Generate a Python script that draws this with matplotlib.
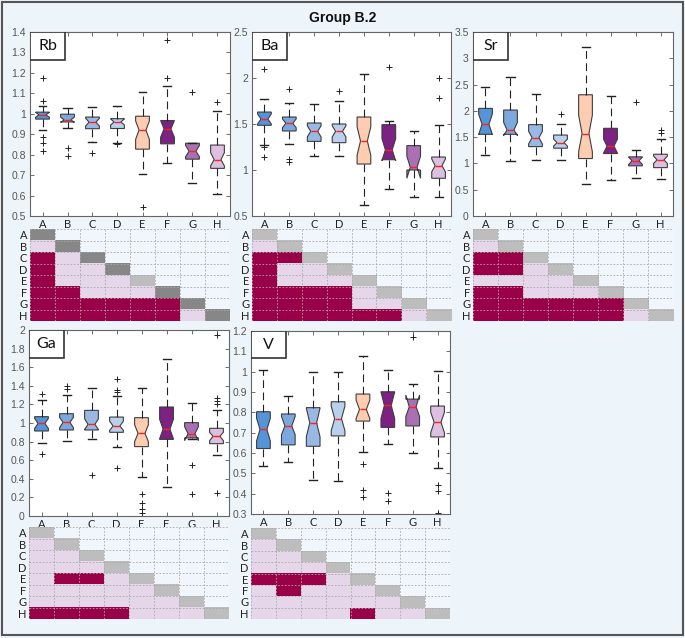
import numpy as np
import matplotlib
matplotlib.use("Agg")
import matplotlib.pyplot as plt
from matplotlib.patches import Rectangle
from matplotlib.colors import ListedColormap
from matplotlib.ticker import FuncFormatter, MultipleLocator

groups = ["A", "B", "C", "D", "E", "F", "G", "H"]
box_colors = ["#5594d6", "#7ca8de", "#9ab8e4", "#b9cfeb",
              "#fdccb1", "#7d2282", "#a970b3", "#dcbfe1"]

# box stats per group: (whisker low, q1, median, q3, whisker high)
rb_box = [(0.92, 0.974, 0.995, 1.008, 1.04), (0.93, 0.96, 0.97, 0.998, 1.03),
          (0.862, 0.927, 0.959, 0.984, 1.035), (0.858, 0.928, 0.96, 0.976, 1.04),
          (0.706, 0.827, 0.92, 0.988, 1.105), (0.758, 0.853, 0.926, 0.967, 1.137),
          (0.663, 0.778, 0.817, 0.856, 0.856), (0.606, 0.733, 0.776, 0.847, 1.015)]
rb_notch = [(0.983, 1.007), (0.958, 0.984), (0.94, 0.978), (0.945, 0.975),
            (0.875, 0.965), (0.885, 0.967), (0.79, 0.845), (0.745, 0.81)]
rb_fliers = [[1.175, 1.064, 0.887, 0.855, 0.82], [0.835, 0.793], [0.807], [0.852],
             [0.543], [1.175, 1.361], [1.106], [1.06]]
rb_sig = [".", "x.", "x..", "x...", "xx...", "xxxxxx", "xxxxxx."]
rb_diag = "ddddlddd"

ba_box = [(1.268, 1.486, 1.554, 1.63, 1.775), (1.286, 1.424, 1.507, 1.576, 1.725),
          (1.149, 1.311, 1.42, 1.511, 1.717), (1.149, 1.297, 1.42, 1.5, 1.746),
          (0.623, 1.065, 1.315, 1.576, 2.04), (0.79, 1.112, 1.22, 1.493, 1.536),
          (0.707, 1.0, 1.03, 1.265, 1.42), (0.707, 0.91, 1.047, 1.141, 1.493)]
ba_notch = [(1.50, 1.61), (1.46, 1.555), (1.36, 1.48), (1.36, 1.48),
            (1.16, 1.47), (1.10, 1.34), (0.91, 1.15), (0.98, 1.12)]
ba_fliers = [[2.25, 2.10, 1.247, 1.138], [1.877, 1.12, 1.083], [], [1.855],
             [], [2.12], [], [2.0, 1.783]]
ba_sig = [".", "xx", "x..", "x...", "xxxx.", "xxxx..", "xxxxxx."]
ba_diag = "llllllll"

sr_box = [(1.156, 1.554, 1.744, 2.047, 2.45), (1.043, 1.554, 1.636, 2.016, 2.65),
          (1.068, 1.32, 1.49, 1.738, 2.318), (1.068, 1.29, 1.396, 1.54, 1.75),
          (0.6, 1.093, 1.567, 2.306, 3.21), (0.683, 1.188, 1.327, 1.668, 2.275),
          (0.714, 0.954, 1.05, 1.125, 1.257), (0.7, 0.92, 1.068, 1.175, 1.472)]
sr_notch = [(1.55, 1.94), (1.53, 1.78), (1.37, 1.61), (1.33, 1.46),
            (1.22, 1.92), (1.20, 1.46), (0.98, 1.12), (1.0, 1.14)]
sr_fliers = [[], [], [], [1.946], [], [], [2.173], [1.63, 1.586]]
sr_sig = [".", "xx", "xx.", "....", "xx...", "xxxxxx", "xxxxxx."]
sr_diag = "llllllll"

ga_box = [(0.789, 0.914, 0.996, 1.068, 1.244), (0.803, 0.925, 1.007, 1.10, 1.30),
          (0.824, 0.925, 0.986, 1.136, 1.373), (0.738, 0.9, 0.968, 1.064, 1.294),
          (0.419, 0.746, 0.889, 1.057, 1.373), (0.312, 0.824, 0.935, 1.172, 1.685),
          (0.83, 0.84, 0.885, 1.004, 1.219), (0.656, 0.778, 0.857, 0.943, 1.14)]
ga_notch = [(0.94, 1.05), (0.95, 1.06), (0.93, 1.045), (0.92, 1.02),
            (0.80, 0.98), (0.83, 1.04), (0.81, 0.96), (0.81, 0.90)]
ga_fliers = [[1.308, 0.663], [1.401, 1.362], [0.444], [1.477, 1.351, 1.33, 0.513],
             [0.233, 0.136, 0.072, 0.036], [], [0.548, 0.233],
             [1.946, 1.265, 1.235, 1.205, 0.244]]
ga_sig = [".", "..", "...", ".xx.", ".....", "......", "xxxx..."]
ga_diag = "llllllll"

v_box = [(0.538, 0.622, 0.716, 0.803, 1.01), (0.555, 0.64, 0.733, 0.792, 0.881),
         (0.468, 0.633, 0.749, 0.823, 0.999), (0.46, 0.684, 0.769, 0.852, 0.999),
         (0.604, 0.757, 0.814, 0.890, 1.077), (0.644, 0.726, 0.834, 0.901, 1.01),
         (0.599, 0.733, 0.827, 0.865, 0.937), (0.525, 0.679, 0.751, 0.831, 1.002)]
v_notch = [(0.66, 0.77), (0.69, 0.78), (0.68, 0.82), (0.71, 0.83),
           (0.77, 0.86), (0.77, 0.90), (0.78, 0.885), (0.70, 0.80)]
v_fliers = [[], [], [], [], [0.545, 0.419, 0.386], [0.403, 0.362], [1.171],
            [0.443, 0.411, 0.305]]
v_sig = [".", "..", "...", "xxx.", ".x...", "......", "....x.."]
v_diag = "llllllll"

panels = [
    ("Rb", rb_box, rb_notch, rb_fliers, rb_sig, rb_diag, (0.5, 1.4), 0.1),
    ("Ba", ba_box, ba_notch, ba_fliers, ba_sig, ba_diag, (0.5, 2.5), 0.5),
    ("Sr", sr_box, sr_notch, sr_fliers, sr_sig, sr_diag, (0, 3.5), 0.5),
    ("Ga", ga_box, ga_notch, ga_fliers, ga_sig, ga_diag, (0, 2), 0.2),
    ("V", v_box, v_notch, v_fliers, v_sig, v_diag, (0.3, 1.2), 0.1),
]

# pixel boxes (left, top, right, bottom) for boxplot and heatmap
W, H = 685, 638
box_px = [(30, 32, 230, 216), (252, 32, 451, 216), (473, 32, 673, 216),
          (29, 330, 229, 516), (251, 331, 450, 514)]
heat_px = [(30, 229, 230, 321), (252, 229, 451, 321), (473, 229, 673, 321),
           (29, 527, 229, 619), (251, 528, 450, 619)]

bg = "#edf4fa"
heat_cmap = ListedColormap(["#f0f6fb", "#e6d6ea", "#9a0047", "#878787", "#bdbdbd"])
lab_font = ["Lato", "DejaVu Sans"]
tick_font = ["Liberation Sans", "DejaVu Sans"]


def rect(p):
    l, t, r, b = p
    return [l / W, 1 - b / H, (r - l) / W, (b - t) / H]


fig = plt.figure(figsize=(W / 100, H / 100), dpi=100)
fig.patch.set_facecolor(bg)
fig.patches.append(Rectangle((0.003, 0.004), 0.994, 0.993, transform=fig.transFigure,
                             fill=False, ec="#555555", lw=1.5))
fig.text(0.5, 0.972, "Group B.2", ha="center", va="center", fontsize=10,
         fontweight="bold", family=tick_font, color="#111111")

fmt = FuncFormatter(lambda v, p: f"{v:g}")

for k, (name, bx, notch, fl, sig, diag, ylim, step) in enumerate(panels):
    ax = fig.add_axes(rect(box_px[k]))
    stats = []
    for i in range(8):
        wlo, q1, med, q3, whi = bx[i]
        stats.append(dict(whislo=wlo, q1=q1, med=med, q3=q3, whishi=whi,
                          cilo=notch[i][0], cihi=notch[i][1], fliers=fl[i]))
    art = ax.bxp(stats, positions=np.arange(1, 9), widths=0.55, shownotches=True,
                 patch_artist=True, capwidths=0.32,
                 boxprops=dict(ec="#3d3d3d", lw=0.8),
                 medianprops=dict(color="#ff2020", lw=1.0),
                 whiskerprops=dict(color="#222222", lw=0.8, ls=(0, (7, 4))),
                 capprops=dict(color="#222222", lw=1.0),
                 flierprops=dict(marker="+", markeredgecolor="#222222",
                                 markersize=4.5, markeredgewidth=0.7, ls="none"))
    for patch, c in zip(art["boxes"], box_colors):
        patch.set_facecolor(c)
    ax.set_xlim(0.5, 8.5)
    ax.set_ylim(*ylim)
    ax.yaxis.set_major_locator(MultipleLocator(step))
    ax.yaxis.set_major_formatter(fmt)
    ax.set_xticks(np.arange(1, 9))
    ax.set_xticklabels(groups, family=lab_font, fontsize=8, color="#222222")
    ax.tick_params(direction="in", length=3, width=0.6, color="#555555",
                   top=True, right=True, pad=2)
    ax.tick_params(axis="y", labelsize=7.5, labelcolor="#555555", pad=3)
    for lab in ax.get_yticklabels():
        lab.set_family(tick_font)
    for s in ax.spines.values():
        s.set_color("#666666")
        s.set_linewidth(0.8)
    ax.add_patch(Rectangle((0, 0.85), 0.175, 0.15, transform=ax.transAxes,
                           fc="white", ec="#333333", lw=1.2, zorder=5))
    ax.text(0.0875, 0.925, name, transform=ax.transAxes, ha="center", va="center",
            fontsize=11.5, family=lab_font, color="#111111", zorder=6)

    # pairwise significance matrix
    m = np.zeros((8, 8))
    for r in range(8):
        m[r, r] = 3 if diag[r] == "d" else 4
    for r, row in enumerate(sig, start=1):
        for c, ch in enumerate(row):
            m[r, c] = 2 if ch == "x" else 1
    hx = fig.add_axes(rect(heat_px[k]))
    hx.imshow(m, cmap=heat_cmap, vmin=-0.5, vmax=4.5, aspect="auto",
              extent=(0.5, 8.5, 8.5, 0.5), interpolation="nearest")
    for g in np.arange(0.5, 9.0, 1.0):
        hx.axhline(g, color="#a8a8a8", lw=0.6, ls=(0, (2, 2)))
        hx.axvline(g, color="#a8a8a8", lw=0.6, ls=(0, (2, 2)))
    hx.set_xlim(0.5, 8.5)
    hx.set_ylim(8.5, 0.5)
    hx.set_xticks([])
    hx.set_yticks(np.arange(1, 9))
    hx.set_yticklabels(groups, family=lab_font, fontsize=8, color="#222222")
    hx.tick_params(length=0, pad=2)
    for s in hx.spines.values():
        s.set_visible(False)

fig.savefig("out.png", dpi=100, facecolor=fig.get_facecolor())
